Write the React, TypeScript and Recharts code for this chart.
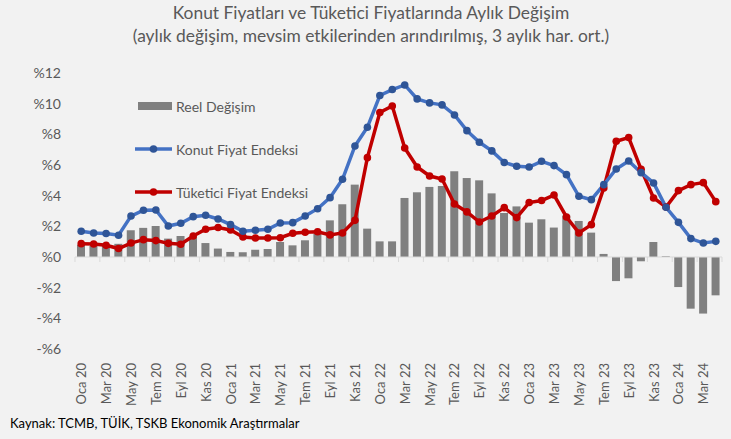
import React from "react";
import {
  ComposedChart,
  Bar,
  Line,
  XAxis,
  YAxis,
  ReferenceLine,
} from "recharts";

const aylar = ["Oca", "Şub", "Mar", "Nis", "May", "Haz", "Tem", "Ağu", "Eyl", "Eki", "Kas", "Ara"];

// Oca 20 - Nis 24, 52 ay
const donemler: string[] = [];
for (let i = 0; i < 52; i++) {
  donemler.push(`${aylar[i % 12]} ${20 + Math.floor(i / 12)}`);
}

const konutFiyat = [
  1.68, 1.57, 1.53, 1.42, 2.67, 3.05, 3.07, 2.02, 2.2, 2.63, 2.72, 2.48,
  2.11, 1.68, 1.74, 1.81, 2.22, 2.24, 2.67, 3.15, 3.87, 5.07, 7.24, 8.46,
  10.53, 10.92, 11.22, 10.31, 10.05, 9.92, 9.26, 8.24, 7.48, 6.92, 6.16, 5.92,
  5.87, 6.24, 5.96, 5.37, 3.96, 3.74, 4.72, 5.74, 6.26, 5.5, 4.83, 3.24,
  2.26, 1.2, 0.91, 1.02,
];

const tuketiciFiyat = [
  0.87, 0.85, 0.76, 0.55, 0.91, 1.13, 1.07, 0.89, 0.83, 1.37, 1.81, 1.92,
  1.76, 1.3, 1.24, 1.24, 1.26, 1.55, 1.61, 1.65, 1.44, 1.57, 2.39, 6.48,
  9.42, 9.85, 7.11, 5.87, 5.28, 5.09, 3.46, 2.94, 2.28, 2.67, 3.22, 2.57,
  3.55, 3.68, 4.04, 2.61, 1.57, 2.11, 4.5, 7.55, 7.79, 5.72, 3.85, 3.26,
  4.33, 4.72, 4.85, 3.61,
];

const reelDegisim = [
  0.8, 0.72, 0.77, 0.86, 1.74, 1.9, 2.02, 1.2, 1.37, 1.3, 0.91, 0.55,
  0.33, 0.31, 0.48, 0.52, 0.98, 0.76, 1.09, 1.52, 2.39, 3.44, 4.72, 1.85,
  1.02, 1.02, 3.85, 4.22, 4.57, 4.63, 5.59, 5.15, 5.0, 4.15, 2.87, 3.3,
  2.24, 2.46, 1.92, 2.7, 2.35, 1.59, 0.2, -1.57, -1.39, -0.28, 0.98, 0.05,
  -1.96, -3.37, -3.69, -2.5,
];

const yTicks = [-6, -4, -2, 0, 2, 4, 6, 8, 10, 12];

const veri = donemler.map((d, i) => ({
  donem: d,
  konut: konutFiyat[i],
  tufe: tuketiciFiyat[i],
  reel: reelDegisim[i],
}));

const FONT = "Lato, 'Open Sans', sans-serif";
const GRI = "#595959";
const MAVI = "#4472C4";
const MAVI_KOYU = "#2F5597";
const KIRMIZI = "#C00000";
const BAR = "#808080";

const yuzde = (v: number) => (v < 0 ? `-%${Math.abs(v)}` : `%${v}`);

function SifirCizgisi(props: any) {
  const { x1, x2, y1 } = props;
  const adim = ((x2 - x1) / donemler.length) * 2;
  const tikler = [];
  for (let x = x1; x <= x2 + 0.5; x += adim) {
    tikler.push(<line key={x} x1={x} x2={x} y1={y1} y2={y1 + 5} stroke="#d9d9d9" strokeWidth={1} />);
  }
  return (
    <g>
      <line x1={x1} x2={x2} y1={y1} y2={y1} stroke="#d9d9d9" strokeWidth={1} />
      {tikler}
    </g>
  );
}

function XTick(props: any) {
  const { x, y, payload } = props;
  return (
    <text
      x={x}
      y={y}
      transform={`rotate(-90, ${x}, ${y})`}
      textAnchor="end"
      dominantBaseline="central"
      fill={GRI}
      fontSize={13}
      fontFamily={FONT}
    >
      {payload.value}
    </text>
  );
}

function Lejant() {
  const satir = { display: "flex", alignItems: "center", height: 20 } as const;
  const yazi = { fontSize: 14, color: GRI, marginLeft: 4, fontFamily: FONT };
  const cizgi = (renk: string, nokta: string) => (
    <svg width={37} height={10}>
      <line x1={0} x2={37} y1={5} y2={5} stroke={renk} strokeWidth={3.5} />
      <circle cx={18.5} cy={5} r={3.8} fill={nokta} />
    </svg>
  );
  return (
    <div
      style={{
        position: "absolute",
        left: 135,
        top: 96,
        display: "flex",
        flexDirection: "column",
        gap: 23,
      }}
    >
      <div style={satir}>
        <div style={{ width: 34, height: 8, background: BAR, marginLeft: 3 }} />
        <span style={yazi}>Reel Değişim</span>
      </div>
      <div style={satir}>
        {cizgi(MAVI, MAVI_KOYU)}
        <span style={yazi}>Konut Fiyat Endeksi</span>
      </div>
      <div style={satir}>
        {cizgi(KIRMIZI, KIRMIZI)}
        <span style={yazi}>Tüketici Fiyat Endeksi</span>
      </div>
    </div>
  );
}

export default function App() {
  return (
    <div
      style={{
        position: "absolute",
        left: 0,
        top: 0,
        width: 731,
        height: 439,
        background: "#f2f2f2",
        fontFamily: FONT,
      }}
    >
      <div
        style={{
          position: "absolute",
          top: 1,
          left: 0,
          width: 742,
          textAlign: "center",
          color: GRI,
          fontSize: 17.4,
          lineHeight: "23px",
        }}
      >
        Konut Fiyatları ve Tüketici Fiyatlarında Aylık Değişim
        <br />
        (aylık değişim, mevsim etkilerinden arındırılmış, 3 aylık har. ort.)
      </div>
      <div style={{ position: "absolute", top: 0, left: 0 }}>
        <ComposedChart
          width={731}
          height={439}
          data={veri}
          margin={{ top: 73, right: 9, bottom: 30, left: 0 }}
          barSize={8}
        >
          <XAxis
            dataKey="donem"
            interval={1}
            axisLine={false}
            tickLine={false}
            tick={<XTick />}
            height={60}
            tickMargin={8}
          />
          <YAxis
            domain={[-6, 12]}
            ticks={yTicks}
            tickFormatter={yuzde}
            axisLine={false}
            tickLine={false}
            width={75}
            tickMargin={8}
            tick={{ fill: GRI, fontSize: 14, fontFamily: FONT }}
          />
          <ReferenceLine y={0} shape={<SifirCizgisi />} />
          <Bar dataKey="reel" fill={BAR} isAnimationActive={false} />
          <Line
            dataKey="tufe"
            stroke={KIRMIZI}
            strokeWidth={3.5}
            dot={{ r: 3.8, fill: KIRMIZI, stroke: "none" }}
            isAnimationActive={false}
          />
          <Line
            dataKey="konut"
            stroke={MAVI}
            strokeWidth={3.5}
            dot={{ r: 3.8, fill: MAVI_KOYU, stroke: "none" }}
            isAnimationActive={false}
          />
        </ComposedChart>
      </div>
      <Lejant />
      <div
        style={{
          position: "absolute",
          left: 10,
          top: 415,
          fontSize: 13,
          color: "#000",
        }}
      >
        Kaynak: TCMB, TÜİK, TSKB Ekonomik Araştırmalar
      </div>
    </div>
  );
}
